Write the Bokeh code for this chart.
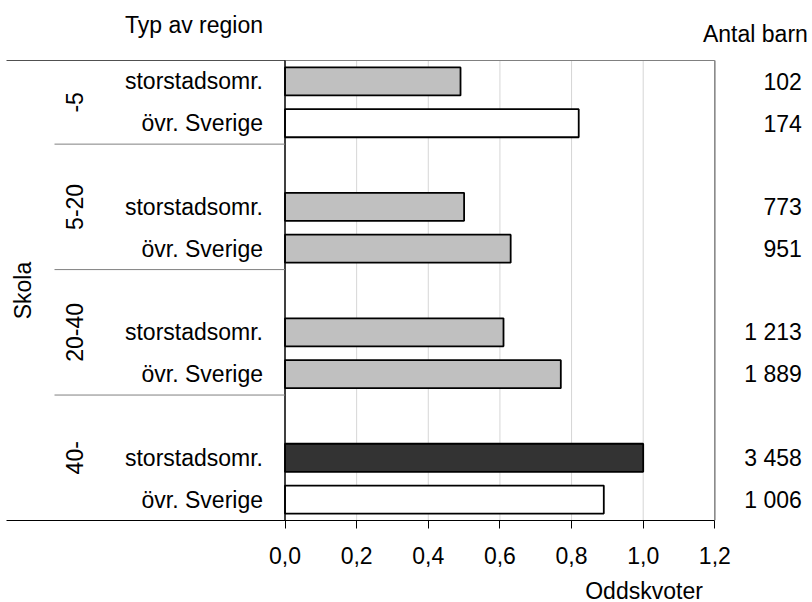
import math
from bokeh.plotting import figure
from bokeh.layouts import column
from bokeh.models import Range1d, FixedTicker, CustomJSTickFormatter, ColumnDataSource
from bokeh.core.properties import value
from bokeh.embed import file_html
from bokeh.resources import INLINE

# ---------------- data ----------------
groups = ["-5", "5-20", "20-40", "40-"]
region_labels = ["storstadsomr.", "övr. Sverige"]
odds_storstad = [0.49, 0.50, 0.61, 1.00]
odds_ovr = [0.82, 0.63, 0.77, 0.89]
antal_storstad = ["102", "773", "1 213", "3 458"]
antal_ovr = ["174", "951", "1 889", "1 006"]
x_ticks = [0.0, 0.2, 0.4, 0.6, 0.8, 1.0, 1.2]
x_title = "Oddskvoter"
y_title = "Skola"
left_header = "Typ av region"
right_header = "Antal barn"

# ---------------- style / layout ----------------
FONT = "Liberation Sans"
FS = "23px"
W = 812
H_MAIN, H_TITLE = 578, 24
PX_PER_UNIT = 358.2          # pixels per odds unit
X0_PX = 284.5                # canvas x of odds 0
X_START = (0 - X0_PX) / PX_PER_UNIT
X_END = X_START + W / PX_PER_UNIT
SLOT_PX = 460 / 11.0
FRAME_BOTTOM_PX = 520
BOTTOM_BORDER = H_MAIN - FRAME_BOTTOM_PX
Y_BOTTOM = 10.5
Y_TOP = Y_BOTTOM - FRAME_BOTTOM_PX / SLOT_PX
PLOT_TOP, PLOT_BOTTOM = -0.5, 10.5

fill_storstad = ["#C0C0C0", "#C0C0C0", "#C0C0C0", "#333333"]
fill_ovr = ["#FFFFFF", "#C0C0C0", "#C0C0C0", "#FFFFFF"]

# slots: each group has storstad, övr, then an empty slot
ys, vals, fills, labels, counts = [], [], [], [], []
for g in range(len(groups)):
    ys += [3 * g, 3 * g + 1]
    vals += [odds_storstad[g], odds_ovr[g]]
    fills += [fill_storstad[g], fill_ovr[g]]
    labels += region_labels
    counts += [antal_storstad[g], antal_ovr[g]]

bars = ColumnDataSource(dict(y=ys, right=vals, fill=fills, label=labels, count=counts,
                             zero=[0.0] * len(ys), xr=[1.2] * len(ys)))

xr = Range1d(X_START, X_END)
p = figure(width=W, height=H_MAIN, output_backend="svg", toolbar_location=None,
           x_range=xr, y_range=Range1d(Y_BOTTOM, Y_TOP),
           y_axis_location=None, min_border=0, min_border_bottom=BOTTOM_BORDER)
p.outline_line_color = None
p.xgrid.visible = False
p.ygrid.visible = False
p.background_fill_color = "white"
p.border_fill_color = "white"

# grid lines
grid_x = [t for t in x_ticks if 0 < t < 1.2]
p.segment(x0=grid_x, x1=grid_x, y0=[PLOT_TOP] * len(grid_x), y1=[PLOT_BOTTOM] * len(grid_x),
          line_color="#D6D6D6", line_width=1)

# bars
p.hbar(y="y", left="zero", right="right", height=0.67, fill_color="fill",
       line_color="black", line_width=1.8, source=bars)

# frame lines
p.segment(x0=[0.0], x1=[1.2], y0=[PLOT_TOP], y1=[PLOT_TOP], line_color="#808080", line_width=1)
p.segment(x0=[X_START + 6 / PX_PER_UNIT], x1=[0.0], y0=[PLOT_TOP], y1=[PLOT_TOP],
          line_color="#505050", line_width=1)
p.segment(x0=[1.2], x1=[1.2], y0=[PLOT_TOP], y1=[PLOT_BOTTOM], line_color="#808080", line_width=1.5)
p.segment(x0=[0.0], x1=[0.0], y0=[PLOT_TOP], y1=[PLOT_BOTTOM], line_color="black", line_width=1.5)

# group separators
sep_y = [3 * g - 1.5 for g in range(1, len(groups))]
sep_x0 = (54 - X0_PX) / PX_PER_UNIT
p.segment(x0=[sep_x0] * len(sep_y), x1=[0.0] * len(sep_y), y0=sep_y, y1=sep_y,
          line_color="#808080", line_width=1)

# category labels
p.text(x="zero", y="y", text="label", source=bars, x_offset=-22, text_align="right",
       text_baseline="middle", text_font=value(FONT), text_font_size=FS, text_color="black")
# counts
p.text(x="xr", y="y", text="count", source=bars, x_offset=87, text_align="right",
       text_baseline="middle", text_font=value(FONT), text_font_size=FS, text_color="black")

# group labels (rotated), centred on each group's span
bounds = [PLOT_TOP] + sep_y + [PLOT_BOTTOM]
gy = [(bounds[i] + bounds[i + 1]) / 2 for i in range(len(groups))]
p.text(x=[0.0] * len(groups), y=gy, text=groups, x_offset=-210.5, angle=math.pi / 2,
       text_align="center", text_baseline="middle", text_font=value(FONT),
       text_font_size=FS, text_color="black")

# y title
p.text(x=[0.0], y=[(PLOT_TOP + PLOT_BOTTOM) / 2], text=[y_title], x_offset=-262.5,
       angle=math.pi / 2, text_align="center", text_baseline="middle",
       text_font=value(FONT), text_font_size=FS, text_color="black")

# headers
p.text(x=[0.0], y=[PLOT_TOP], text=[left_header], x_offset=-22, y_offset=-36,
       text_align="right", text_baseline="middle", text_font=value(FONT),
       text_font_size=FS, text_color="black")
p.text(x=[1.2], y=[PLOT_TOP], text=[right_header], x_offset=93, y_offset=-27,
       text_align="right", text_baseline="middle", text_font=value(FONT),
       text_font_size=FS, text_color="black")

# x axis
ax = p.xaxis[0]
ax.ticker = FixedTicker(ticks=x_ticks)
ax.formatter = CustomJSTickFormatter(code="return tick.toFixed(1).replace('.', ',');")
ax.bounds = (X_START + 6 / PX_PER_UNIT, 1.2)
ax.axis_line_color = "black"
ax.axis_line_width = 1
ax.major_tick_in = 0
ax.major_tick_out = 8
ax.major_tick_line_color = "black"
ax.minor_tick_line_color = None
ax.major_label_standoff = 18
ax.major_label_text_font = FONT
ax.major_label_text_font_size = FS
ax.major_label_text_color = "black"

# x title strip (shares the x range)
t = figure(width=W, height=H_TITLE, output_backend="svg", toolbar_location=None,
           x_range=xr, y_range=Range1d(0, H_TITLE), x_axis_location=None,
           y_axis_location=None, min_border=0)
t.outline_line_color = None
t.xgrid.visible = False
t.ygrid.visible = False
t.text(x=[1.2], y=[H_TITLE / 2], text=[x_title], x_offset=-12, text_align="right",
       text_baseline="middle", text_font=value(FONT), text_font_size=FS, text_color="black")

layout = column(p, t, spacing=0)
open("out.html", "w").write(file_html(layout, INLINE))
